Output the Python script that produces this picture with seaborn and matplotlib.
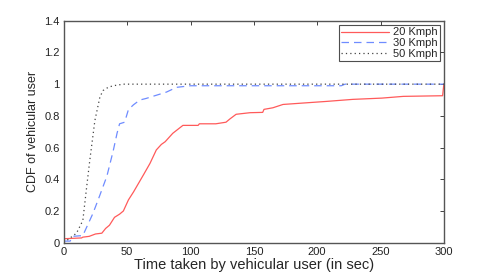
import matplotlib
matplotlib.use("Agg")
import matplotlib.pyplot as plt
import seaborn as sns
import pandas as pd

# 20 Kmph
x20 = [0, 14, 15, 20, 25, 30, 33, 36, 40, 44, 47, 51, 55, 59, 63, 68, 73, 77, 80, 86, 94,
       106, 107, 120, 128, 131, 136, 147, 157, 158, 165, 173, 189, 207, 228, 251, 268, 299, 300]
y20 = [0.025, 0.03, 0.035, 0.04, 0.055, 0.06, 0.09, 0.11, 0.16, 0.18, 0.2, 0.27, 0.32, 0.375, 0.43, 0.5, 0.585, 0.62, 0.637, 0.69, 0.74,
       0.74, 0.75, 0.75, 0.76, 0.78, 0.81, 0.82, 0.822, 0.841, 0.851, 0.872, 0.881, 0.891, 0.904, 0.912, 0.923, 0.927, 1.0]

# 30 Kmph
x30 = [0, 5, 7, 15, 17, 23, 28, 34, 39, 42, 44, 48, 51, 55, 60, 65, 73, 81, 89, 100, 219, 222, 300]
y30 = [0.01, 0.01, 0.04, 0.045, 0.08, 0.185, 0.29, 0.42, 0.58, 0.69, 0.75, 0.76, 0.84, 0.87, 0.90, 0.91, 0.93, 0.95, 0.98, 0.99, 0.99, 1.0, 1.0]

# 50 Kmph
x50 = [0, 5, 10, 15, 18, 20.5, 24.5, 28.5, 31, 35, 39, 47, 300]
y50 = [0.0, 0.03, 0.06, 0.14, 0.35, 0.52, 0.77, 0.92, 0.96, 0.98, 0.99, 1.0, 1.0]

labels = ["20 Kmph", "30 Kmph", "50 Kmph"]
xticks = [0, 50, 100, 150, 200, 250, 300]
yticks = [0, 0.2, 0.4, 0.6, 0.8, 1.0, 1.2, 1.4]
ytick_labels = ["0", "0.2", "0.4", "0.6", "0.8", "1", "1.2", "1.4"]

sns.set_style("white")
plt.rcParams['font.family'] = ['Liberation Sans', 'DejaVu Sans']

fig = plt.figure(figsize=(4.91, 2.73), dpi=100)
ax = fig.add_axes([0.130, 0.111, 0.774, 0.813])

df20 = pd.DataFrame({"x": x20, "y": y20})
df30 = pd.DataFrame({"x": x30, "y": y30})
df50 = pd.DataFrame({"x": x50, "y": y50})

sns.lineplot(data=df20, x="x", y="y", ax=ax, color="#ff5a5a", lw=0.9, label=labels[0], estimator=None, sort=False)
sns.lineplot(data=df30, x="x", y="y", ax=ax, color="#6f8cff", lw=0.9, label=labels[1], estimator=None, sort=False,
             linestyle=(0, (6, 4)))
sns.lineplot(data=df50, x="x", y="y", ax=ax, color="#444444", lw=0.9, label=labels[2], estimator=None, sort=False,
             linestyle=(0, (1, 2.5)))

ax.set_xlim(0, 300)
ax.set_ylim(0, 1.4)
ax.set_xticks(xticks)
ax.set_yticks(yticks)
ax.set_yticklabels(ytick_labels)
ax.tick_params(direction="in", length=3, width=0.6, labelsize=8, top=True, right=True, pad=3,
               colors="#222222")
for s in ax.spines.values():
    s.set_color("#555555")
    s.set_linewidth(1.0)
ax.set_xlabel("Time taken by vehicular user (in sec)", fontsize=10.5, labelpad=1)
ax.set_ylabel("CDF of vehicular user", fontsize=9, labelpad=4)

leg = ax.legend(loc="upper right", fontsize=8, frameon=True, fancybox=False, borderpad=0.25,
                labelspacing=0.05, handlelength=4.3, handletextpad=0.3, borderaxespad=0.35,
                markerfirst=True)
leg.get_frame().set_edgecolor("#222222")
leg.get_frame().set_linewidth(0.8)

fig.savefig("out.png", dpi=100)
